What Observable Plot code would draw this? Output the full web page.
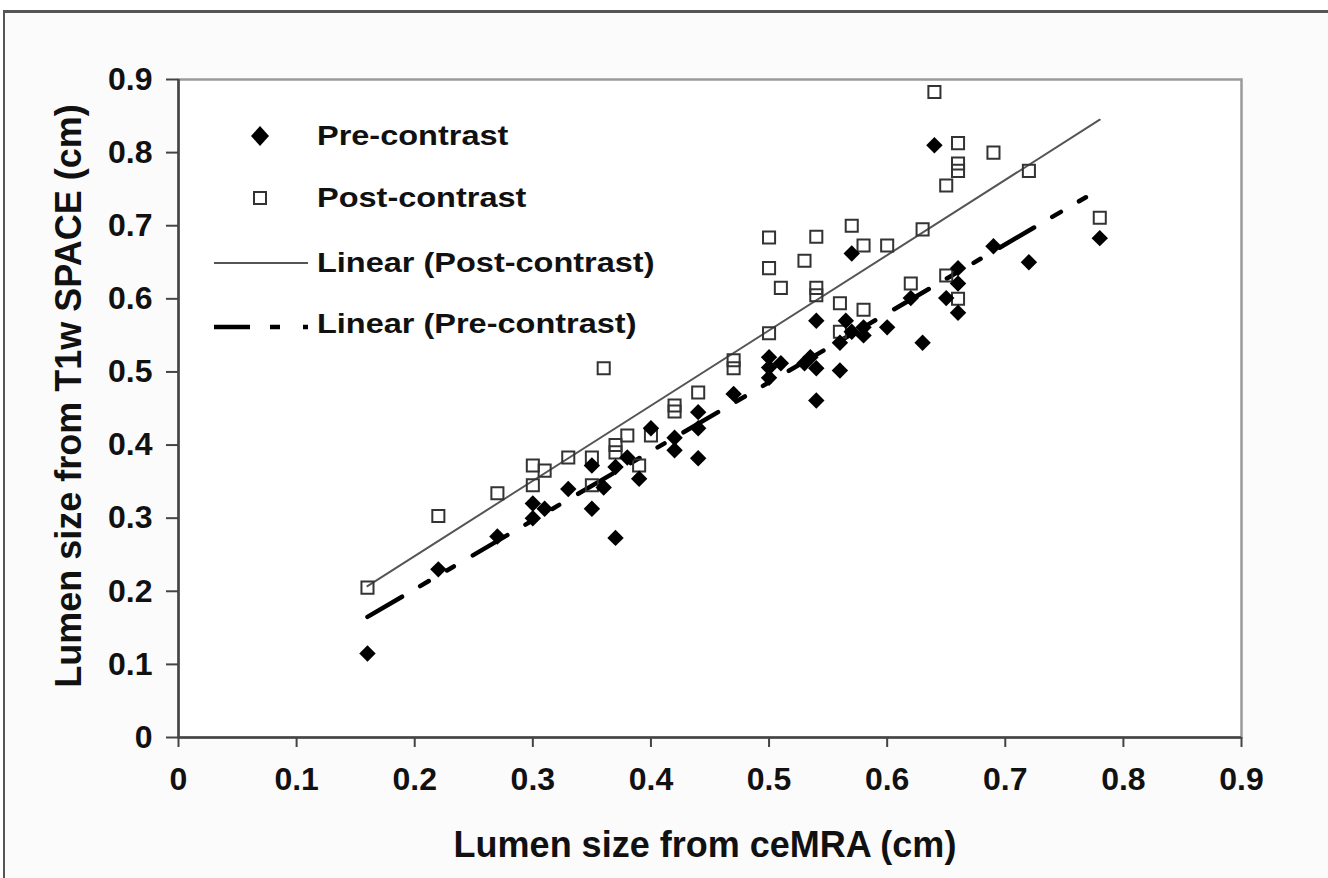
<!DOCTYPE html>
<html>
<head>
<meta charset="utf-8">
<script src="https://cdn.jsdelivr.net/npm/d3@7"></script>
<script src="https://cdn.jsdelivr.net/npm/@observablehq/plot@0.6"></script>
<style>
  html, body { margin: 0; padding: 0; background: #ffffff; }
  #page { position: relative; width: 1328px; height: 878px; overflow: hidden; font-family: "Liberation Sans", Arial, sans-serif; font-weight: bold; }
  #bg { position: absolute; left: 3px; top: 10px; width: 1325px; height: 868px; background: #fbfbfb; border-top: 3px solid #555; border-left: 2px solid #555; box-sizing: border-box; }
  #chart { position: absolute; left: 0; top: 0; }
  .title { position: absolute; white-space: nowrap; font-size: 36px; color: #111; }
  #legend { position: absolute; left: 0; top: 0; }
  .leg-text { position: absolute; white-space: nowrap; font-size: 28px; color: #111; transform-origin: left center; transform: translateY(-50%) scaleX(1.16); }
</style>
</head>
<body>
<div id="page">
  <div id="bg"></div>
  <div id="chart"></div>
  <div id="legend"></div>
  <div class="title" id="xtitle"></div>
  <div class="title" id="ytitle"></div>
</div>
<script>
// ---- Data ----
const preX = [0.16,0.22,0.27,0.30,0.30,0.31,0.33,0.35,0.35,0.36,0.37,0.37,0.38,0.39,0.40,0.42,0.42,0.44,0.44,0.44,0.47,0.50,0.50,0.50,0.51,0.53,0.535,0.54,0.54,0.54,0.56,0.56,0.565,0.57,0.57,0.58,0.58,0.60,0.62,0.63,0.64,0.65,0.66,0.66,0.66,0.69,0.72,0.78];
const preY = [0.115,0.23,0.275,0.30,0.32,0.313,0.34,0.372,0.313,0.342,0.273,0.37,0.383,0.354,0.423,0.41,0.393,0.445,0.423,0.382,0.47,0.52,0.506,0.492,0.512,0.512,0.52,0.57,0.505,0.461,0.54,0.502,0.57,0.555,0.662,0.561,0.55,0.561,0.601,0.54,0.81,0.601,0.642,0.621,0.581,0.672,0.65,0.683];

const postX = [0.16,0.22,0.27,0.30,0.30,0.31,0.33,0.35,0.35,0.36,0.37,0.37,0.38,0.39,0.40,0.42,0.42,0.44,0.47,0.47,0.50,0.50,0.50,0.51,0.53,0.54,0.54,0.54,0.56,0.56,0.57,0.58,0.58,0.60,0.62,0.63,0.64,0.65,0.65,0.66,0.66,0.66,0.66,0.69,0.72,0.78];
const postY = [0.205,0.303,0.334,0.372,0.345,0.365,0.383,0.383,0.345,0.505,0.40,0.39,0.413,0.372,0.413,0.454,0.446,0.472,0.516,0.505,0.684,0.642,0.553,0.615,0.652,0.685,0.615,0.605,0.594,0.555,0.70,0.673,0.585,0.673,0.621,0.695,0.883,0.755,0.632,0.813,0.785,0.775,0.60,0.80,0.775,0.711];

// Trendline end points as drawn in the reference
const postTrendX = [0.16, 0.78];
const postTrendY = [0.207, 0.845];
const preTrendX = [0.16, 0.78];
const preTrendY = [0.165, 0.750];

const xTicks = [0,0.1,0.2,0.3,0.4,0.5,0.6,0.7,0.8,0.9];
const xTickLabels = ["0","0.1","0.2","0.3","0.4","0.5","0.6","0.7","0.8","0.9"];
const yTicks = [0,0.1,0.2,0.3,0.4,0.5,0.6,0.7,0.8,0.9];
const yTickLabels = ["0","0.1","0.2","0.3","0.4","0.5","0.6","0.7","0.8","0.9"];

const xTitle = "Lumen size from ceMRA (cm)";
const yTitle = "Lumen size from T1w SPACE (cm)";
const legendLabels = ["Pre-contrast", "Post-contrast", "Linear (Post-contrast)", "Linear (Pre-contrast)"];

// ---- Build tables ----
const pre = preX.map((x, i) => ({x, y: preY[i]}));
const post = postX.map((x, i) => ({x, y: postY[i]}));
const postTrend = postTrendX.map((x, i) => ({x, y: postTrendY[i]}));
const preTrend = preTrendX.map((x, i) => ({x, y: preTrendY[i]}));

const fontFamily = "'Liberation Sans', Arial, sans-serif";

const chart = Plot.plot({
  width: 1328,
  height: 878,
  marginLeft: 178,
  marginRight: 87,
  marginTop: 79,
  marginBottom: 141,
  style: {background: "transparent", fontFamily, fontWeight: "bold", color: "#111"},
  x: {domain: [0, 0.9]},
  y: {domain: [0, 0.9]},
  marks: [
    Plot.frame({fill: "white", stroke: "#9a9a9a", strokeWidth: 2.5}),
    Plot.ruleX([0], {stroke: "#444", strokeWidth: 2.5}),
    Plot.ruleY([0], {stroke: "#444", strokeWidth: 2.5}),
    Plot.axisX(xTicks, {
      tickSize: 10, tickPadding: 20, fontSize: 32, fontWeight: "bold",
      stroke: "#444", strokeWidth: 2, fill: "#111",
      tickFormat: d => xTickLabels[xTicks.indexOf(d)], label: null
    }),
    Plot.axisY(yTicks, {
      tickSize: 12, tickPadding: 14, fontSize: 32, fontWeight: "bold",
      stroke: "#444", strokeWidth: 2, fill: "#111",
      tickFormat: d => yTickLabels[yTicks.indexOf(d)], label: null
    }),
    Plot.line(postTrend, {x: "x", y: "y", stroke: "#555", strokeWidth: 2}),
    Plot.line(preTrend, {x: "x", y: "y", stroke: "#000", strokeWidth: 4.5, strokeDasharray: "40,21,10,21,8,22"}),
    Plot.dot(post, {x: "x", y: "y", symbol: "square", r: 6.8, stroke: "#333", strokeWidth: 2, fill: "none"}),
    Plot.dot(pre, {x: "x", y: "y", symbol: "diamond2", r: 7.4, fill: "#000", stroke: "none"})
  ]
});
document.getElementById("chart").appendChild(chart);

// ---- Axis titles ----
const xt = document.getElementById("xtitle");
xt.textContent = xTitle;
xt.style.left = "705px"; xt.style.top = "845px";
xt.style.transform = "translate(-50%, -50%)";
const yt = document.getElementById("ytitle");
yt.textContent = yTitle;
yt.style.left = "69px"; yt.style.top = "396px";
yt.style.transform = "translate(-50%, -50%) rotate(-90deg)";

// ---- Legend (inside plot area, upper left) ----
const leg = document.getElementById("legend");
const legY = [136, 198, 263, 324];
const ns = "http://www.w3.org/2000/svg";
const lsvg = document.createElementNS(ns, "svg");
lsvg.setAttribute("width", "1328"); lsvg.setAttribute("height", "878");
lsvg.style.position = "absolute"; lsvg.style.left = "0"; lsvg.style.top = "0";
function el(name, attrs) { const e = document.createElementNS(ns, name); for (const k in attrs) e.setAttribute(k, attrs[k]); lsvg.appendChild(e); return e; }
// diamond
el("path", {d: `M260,${legY[0]-10} L269,${legY[0]} L260,${legY[0]+10} L251,${legY[0]} Z`, fill: "#000"});
// square
el("rect", {x: 254, y: legY[1]-6, width: 12, height: 12, fill: "none", stroke: "#333", "stroke-width": 2});
// post line
el("line", {x1: 214, x2: 308, y1: legY[2], y2: legY[2], stroke: "#555", "stroke-width": 2});
// pre dashed line
el("line", {x1: 214, x2: 308, y1: legY[3]+3, y2: legY[3]+3, stroke: "#000", "stroke-width": 4.5, "stroke-dasharray": "36,20,10,23,5,30"});
leg.appendChild(lsvg);
legendLabels.forEach((t, i) => {
  const d = document.createElement("div");
  d.className = "leg-text";
  d.textContent = t;
  d.style.left = "317px";
  d.style.top = legY[i] + "px";
  leg.appendChild(d);
});
</script>
</body>
</html>
